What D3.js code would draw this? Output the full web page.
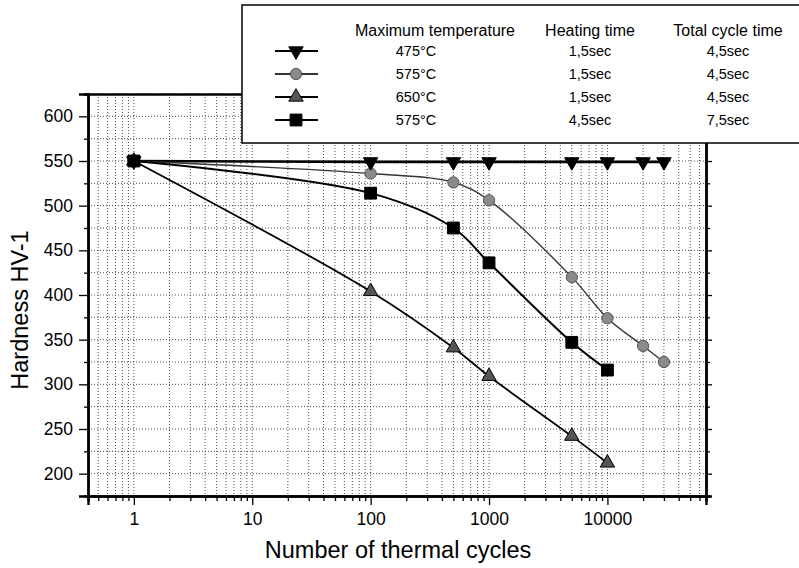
<!DOCTYPE html>
<html>
<head>
<meta charset="utf-8">
<script src="https://cdn.jsdelivr.net/npm/d3@7"></script>
<style>
  html, body { margin: 0; padding: 0; background: #fff; }
  svg { display: block; font-family: "Liberation Sans", Arial, sans-serif; }
</style>
</head>
<body>
<div id="chart"></div>
<script>
// data
const cycles475 = [1, 100, 500, 1000, 5000, 10000, 20000, 30000];
const hard475 = [550, 549, 549, 549, 549, 549, 549, 549];
const cycles575 = [1, 100, 500, 1000, 5000, 10000, 20000, 30000];
const hard575 = [550, 536, 526, 506, 420, 374, 343, 325];
const cycles650 = [1, 100, 500, 1000, 5000, 10000];
const hard650 = [550, 404, 341, 309, 242, 212];
const cycles575b = [1, 100, 500, 1000, 5000, 10000];
const hard575b = [550, 514, 475, 436, 347, 316];

const legendHeader = ["Maximum temperature", "Heating time", "Total cycle time"];
const legendTemp = ["475°C", "575°C", "650°C", "575°C"];
const legendHeat = ["1,5sec", "1,5sec", "1,5sec", "4,5sec"];
const legendCycle = ["4,5sec", "4,5sec", "4,5sec", "7,5sec"];

const xTicks = [1, 10, 100, 1000, 10000];
const yTicks = [200, 250, 300, 350, 400, 450, 500, 550, 600];

const width = 799, height = 568;
const margin = { top: 94, right: 93, bottom: 72, left: 88 };

const x = d3.scaleLog()
  .domain([0.41, 68000])
  .range([margin.left, width - margin.right]);
const y = d3.scaleLinear()
  .domain([175, 625])
  .range([height - margin.bottom, margin.top]);

const svg = d3.select("#chart").append("svg")
  .attr("width", width)
  .attr("height", height);

// minor x values: 2..9 times each decade
const xMinor = [];
for (let e = -1; e <= 4; e++) {
  for (let m = 1; m <= 9; m++) {
    const v = m * Math.pow(10, e);
    if (v >= x.domain()[0] && v <= x.domain()[1] && !xTicks.includes(v)) xMinor.push(v);
  }
}
const yMinor = d3.range(175, 626, 50);

// grid
const grid = svg.append("g").attr("stroke", "#222").attr("stroke-width", 0.8)
  .attr("stroke-dasharray", "1,2");
grid.selectAll(".vg").data(xTicks.concat(xMinor)).enter().append("line")
  .attr("x1", d => x(d)).attr("x2", d => x(d))
  .attr("y1", margin.top).attr("y2", height - margin.bottom);
grid.selectAll(".hg").data(yTicks.concat(yMinor)).enter().append("line")
  .attr("x1", margin.left).attr("x2", width - margin.right)
  .attr("y1", d => y(d)).attr("y2", d => y(d));

// axes
const fmt = d => d3.format("d")(d);
const axBottom = svg.append("g")
  .attr("transform", `translate(0,${height - margin.bottom})`);
axBottom.call(d3.axisBottom(x).tickValues(xTicks).tickFormat(fmt).tickSize(9).tickPadding(8));
axBottom.append("g").call(d3.axisBottom(x).tickValues(xMinor).tickFormat("").tickSize(5));

const axLeft = svg.append("g").attr("transform", `translate(${margin.left},0)`);
axLeft.call(d3.axisLeft(y).tickValues(yTicks).tickSize(9).tickPadding(6));
axLeft.append("g").call(d3.axisLeft(y).tickValues(yMinor).tickFormat("").tickSize(4));

const axRight = svg.append("g").attr("transform", `translate(${width - margin.right},0)`);
axRight.call(d3.axisRight(y).tickValues(yTicks).tickFormat("").tickSize(6));
axRight.append("g").call(d3.axisRight(y).tickValues(yMinor).tickFormat("").tickSize(4));

const axTop = svg.append("g").attr("transform", `translate(0,${margin.top})`);
axTop.call(d3.axisTop(x).tickValues([]).tickSizeOuter(0));

svg.selectAll(".domain").attr("stroke-width", 2.4).attr("stroke", "#000");
svg.selectAll(".tick line").attr("stroke", "#000").attr("stroke-width", 1.3);
svg.selectAll(".tick text").attr("font-size", 17.5).attr("fill", "#000")
  .attr("font-family", "'Liberation Sans', Arial, sans-serif");

// series
const line = d3.line().x(d => x(d[0])).y(d => y(d[1])).curve(d3.curveCatmullRom.alpha(0.5));
const series = [
  { xs: cycles475, ys: hard475, shape: "down", stroke: "#000", width: 2.6, fill: "#000", mstroke: "#000" },
  { xs: cycles575, ys: hard575, shape: "circle", stroke: "#333", width: 1.4, fill: "#8a8a8a", mstroke: "#555" },
  { xs: cycles650, ys: hard650, shape: "up", stroke: "#000", width: 1.8, fill: "#555", mstroke: "#000" },
  { xs: cycles575b, ys: hard575b, shape: "square", stroke: "#000", width: 2, fill: "#000", mstroke: "#000" }
];
const symType = { down: d3.symbolTriangle, up: d3.symbolTriangle, circle: d3.symbolCircle, square: d3.symbolSquare };
const symSize = { down: 90, up: 90, circle: 100, square: 140 };

function marker(g, s, px, py) {
  g.append("path")
    .attr("d", d3.symbol().type(symType[s.shape]).size(symSize[s.shape])())
    .attr("transform", `translate(${px},${py})` + (s.shape === "down" ? " rotate(180)" : ""))
    .attr("fill", s.fill).attr("stroke", s.mstroke).attr("stroke-width", 1);
}

series.forEach(s => {
  const pts = s.xs.map((c, i) => [c, s.ys[i]]);
  svg.append("path").datum(pts)
    .attr("d", line).attr("fill", "none")
    .attr("stroke", s.stroke).attr("stroke-width", s.width);
});
// markers on top; the square series sits over the others at x=1
[1, 2, 0, 3].forEach(k => {
  const s = series[k];
  const g = svg.append("g");
  s.xs.forEach((c, i) => marker(g, s, x(c), y(s.ys[i])));
});

// axis titles
svg.append("text")
  .attr("x", 398).attr("y", 558)
  .attr("text-anchor", "middle").attr("font-size", 23.5)
  .text("Number of thermal cycles");
svg.append("text")
  .attr("transform", "translate(28,310) rotate(-90)")
  .attr("text-anchor", "middle").attr("font-size", 23.5)
  .text("Hardness HV-1");

// legend box
const lg = svg.append("g");
lg.append("rect")
  .attr("x", 242).attr("y", 5).attr("width", 600).attr("height", 138)
  .attr("fill", "#fff").attr("stroke", "#000").attr("stroke-width", 1.5);
const cols = [435, 590, 728];
legendHeader.forEach((t, i) => {
  lg.append("text").attr("x", cols[i]).attr("y", 36)
    .attr("text-anchor", "middle").attr("font-size", 16).text(t);
});
const rowY = [51, 74, 97, 120];
series.forEach((s, i) => {
  lg.append("line").attr("x1", 275).attr("x2", 318)
    .attr("y1", rowY[i]).attr("y2", rowY[i])
    .attr("stroke", s.stroke).attr("stroke-width", 1.8);
  marker(lg, s, 296, rowY[i]);
  lg.append("text").attr("x", 416).attr("y", rowY[i] + 5)
    .attr("text-anchor", "middle").attr("font-size", 14.5).text(legendTemp[i]);
  lg.append("text").attr("x", cols[1]).attr("y", rowY[i] + 5)
    .attr("text-anchor", "middle").attr("font-size", 14.5).text(legendHeat[i]);
  lg.append("text").attr("x", cols[2]).attr("y", rowY[i] + 5)
    .attr("text-anchor", "middle").attr("font-size", 14.5).text(legendCycle[i]);
});
</script>
</body>
</html>
